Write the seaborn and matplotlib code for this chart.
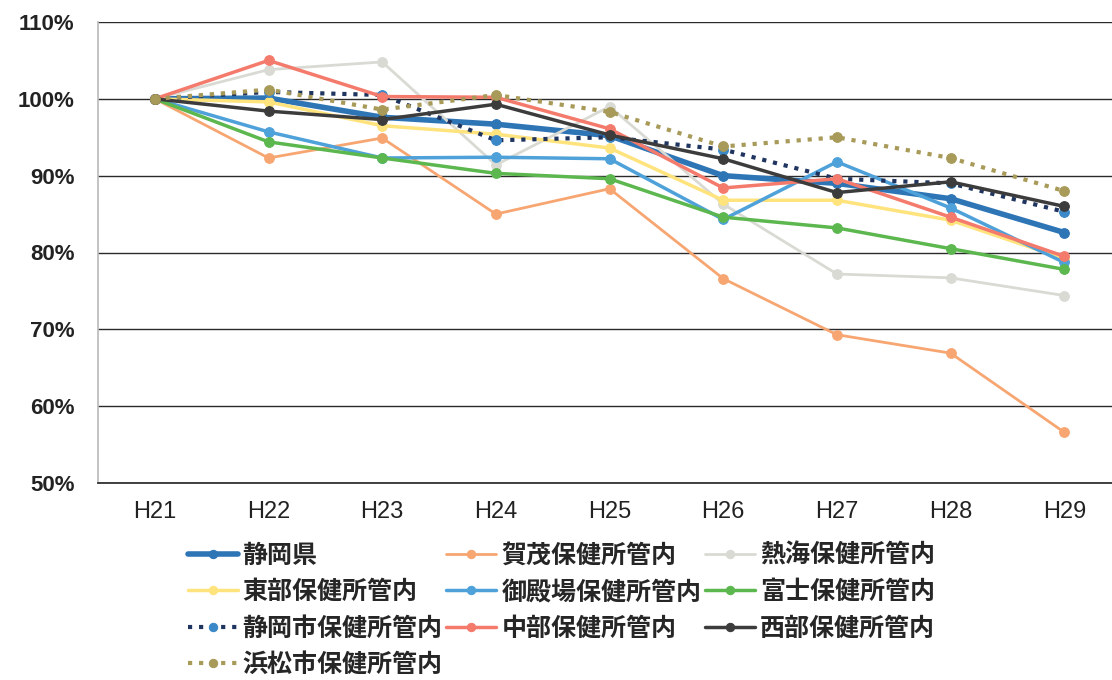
import pandas as pd
import matplotlib
matplotlib.use("Agg")
import matplotlib.pyplot as plt
import seaborn as sns

# ---- data (% of H21) ----
years = ["H21", "H22", "H23", "H24", "H25", "H26", "H27", "H28", "H29"]

shizuoka_ken = [100, 100.1, 97.6, 96.7, 95.2, 90.0, 89.0, 87.0, 82.6]
kamo = [100, 92.3, 94.9, 85.0, 88.3, 76.6, 69.3, 66.9, 56.6]
atami = [100, 103.8, 104.8, 91.4, 99.0, 86.3, 77.2, 76.7, 74.4]
tobu = [100, 99.6, 96.5, 95.4, 93.6, 86.8, 86.8, 84.2, 79.2]
gotemba = [100, 95.7, 92.3, 92.4, 92.2, 84.3, 91.8, 85.8, 78.7]
fuji = [100, 94.4, 92.3, 90.3, 89.6, 84.6, 83.2, 80.5, 77.8]
shizuoka_shi = [100, 100.9, 100.5, 94.6, 95.0, 93.4, 89.6, 89.0, 85.3]
chubu = [100, 105.0, 100.3, 100.2, 96.1, 88.4, 89.6, 84.6, 79.5]
seibu = [100, 98.4, 97.3, 99.3, 95.3, 92.2, 87.8, 89.2, 86.0]
hamamatsu = [100, 101.2, 98.6, 100.5, 98.3, 93.8, 95.0, 92.3, 88.0]

names = ["静岡県", "賀茂保健所管内", "熱海保健所管内", "東部保健所管内", "御殿場保健所管内",
         "富士保健所管内", "静岡市保健所管内", "中部保健所管内", "西部保健所管内", "浜松市保健所管内"]
values = [shizuoka_ken, kamo, atami, tobu, gotemba, fuji, shizuoka_shi, chubu, seibu, hamamatsu]

# line colour, marker colour, width, linestyle
styles = {
    "静岡県": ("#2e75b6", "#2e75b6", 4.0, "-"),
    "賀茂保健所管内": ("#f7a672", "#f7a672", 2.0, "-"),
    "熱海保健所管内": ("#dadad4", "#dadad4", 2.0, "-"),
    "東部保健所管内": ("#ffe37d", "#ffe37d", 2.5, "-"),
    "御殿場保健所管内": ("#4ea1d9", "#4ea1d9", 2.5, "-"),
    "富士保健所管内": ("#5cb74f", "#5cb74f", 2.5, "-"),
    "静岡市保健所管内": ("#1f3560", "#3a88c8", 3.0, ":"),
    "中部保健所管内": ("#f47a6c", "#f47a6c", 2.5, "-"),
    "西部保健所管内": ("#3c3c3c", "#3c3c3c", 2.5, "-"),
    "浜松市保健所管内": ("#a89a58", "#a89a58", 3.0, ":"),
}

rows = []
for n, v in zip(names, values):
    for i, val in enumerate(v):
        rows.append({"year": i, "name": n, "value": val})
df = pd.DataFrame(rows)

sns.set_theme(style="white")
plt.rcParams["font.family"] = ["Noto Sans CJK JP", "DejaVu Sans"]

fig = plt.figure(figsize=(11.12, 6.8), dpi=100)
ax = fig.add_axes([98 / 1112, 1 - 483 / 680, 1 - 98 / 1112, (483 - 22) / 680])

handles = {}
for n in names:
    c, mc, lw, ls = styles[n]
    sub = df[df["name"] == n]
    sns.lineplot(data=sub, x="year", y="value", ax=ax, color=c, lw=lw,
                 linestyle=ls, marker="o", markersize=7, markerfacecolor=mc,
                 markeredgecolor=mc, label=n, legend=False, zorder=3)
    handles[n] = ax.lines[-1]

ax.set_xlim(-0.5, 8.42)
ax.set_ylim(50, 110)
ax.set_yticks(range(50, 111, 10))
ax.set_yticklabels([f"{t}%" for t in range(50, 111, 10)])
ax.set_xticks(range(len(years)))
ax.set_xticklabels(years)
ax.set_xlabel("")
ax.set_ylabel("")
ax.grid(axis="y", color="#2a2a2a", lw=1.0)
ax.set_axisbelow(True)
for s in ["top", "right"]:
    ax.spines[s].set_visible(False)
ax.spines["left"].set_color("#bbbbbb")
ax.spines["bottom"].set_color("#2a2a2a")
ax.tick_params(axis="y", length=0, pad=17, labelsize=16)
ax.tick_params(axis="x", length=0, pad=13, labelsize=17)
for lab in ax.get_yticklabels() + ax.get_xticklabels():
    lab.set_family(["Liberation Sans", "DejaVu Sans"])
    lab.set_color("#222222")
for lab in ax.get_yticklabels():
    lab.set_weight("bold")

# legend, 3 columns filled row by row as in the original
order = ["静岡県", "東部保健所管内", "静岡市保健所管内", "浜松市保健所管内",
         "賀茂保健所管内", "御殿場保健所管内", "中部保健所管内",
         "熱海保健所管内", "富士保健所管内", "西部保健所管内"]
leg = fig.legend([handles[n] for n in order], order, ncol=3,
                 loc="upper left", bbox_to_anchor=(165 / 1112, 1 - 521 / 680),
                 frameon=False, handlelength=2.0, handletextpad=0.2,
                 columnspacing=0.15, labelspacing=0.5,
                 prop={"size": 18, "weight": "bold"})
for line in leg.get_lines():
    line.set_markersize(6)

fig.savefig("out.png", dpi=100)
